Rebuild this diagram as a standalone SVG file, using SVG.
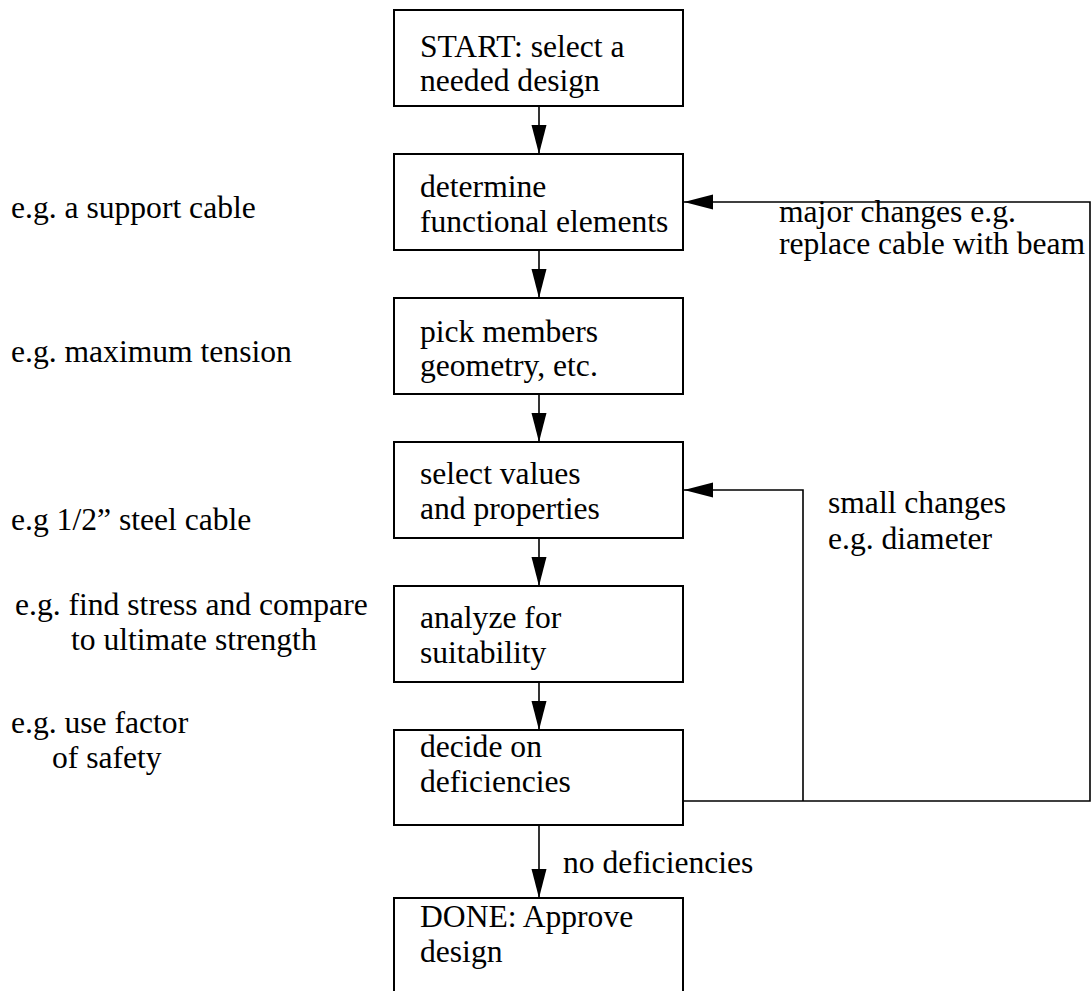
<svg xmlns="http://www.w3.org/2000/svg" width="1091" height="991" viewBox="0 0 1091 991">
  <style>
    text { font-family: "Liberation Serif", "Times New Roman", Times, serif; font-size: 31.6px; fill: #000; }
    .box { fill: #fff; stroke: #000; stroke-width: 2; }
    .wire { fill: none; stroke: #000; stroke-width: 1.6; }
  </style>
  <defs>
    <marker id="head" markerUnits="userSpaceOnUse" markerWidth="30" markerHeight="16" refX="29" refY="7.5" orient="auto">
      <path d="M0,0 L29,7.5 L0,15 Z" fill="#000"/>
    </marker>
  </defs>
  <rect width="1091" height="991" fill="#fff"/>

  <!-- process steps -->
  <g id="start">
    <rect class="box" x="394" y="10" width="289" height="96"/>
    <text x="420" y="57">START: select a</text>
    <text x="420" y="91">needed design</text>
  </g>
  <g id="functional">
    <rect class="box" x="394" y="154" width="289" height="96"/>
    <text x="420" y="197">determine</text>
    <text x="420" y="232">functional elements</text>
  </g>
  <g id="members">
    <rect class="box" x="394" y="298" width="289" height="96"/>
    <text x="420" y="342">pick members</text>
    <text x="420" y="376">geometry, etc.</text>
  </g>
  <g id="values">
    <rect class="box" x="394" y="442" width="289" height="96"/>
    <text x="420" y="484">select values</text>
    <text x="420" y="519">and properties</text>
  </g>
  <g id="analyze">
    <rect class="box" x="394" y="586" width="289" height="96"/>
    <text x="420" y="628">analyze for</text>
    <text x="420" y="663">suitability</text>
  </g>
  <g id="decide">
    <rect class="box" x="394" y="730" width="289" height="95"/>
    <text x="420" y="757">decide on</text>
    <text x="420" y="792">deficiencies</text>
  </g>
  <g id="done">
    <rect class="box" x="394" y="898" width="289" height="110"/>
    <text x="420" y="927">DONE: Approve</text>
    <text x="420" y="962">design</text>
  </g>

  <!-- connectors -->
  <g id="connectors">
    <line class="wire" x1="539" y1="106" x2="539" y2="154" marker-end="url(#head)"/>
    <line class="wire" x1="539" y1="250" x2="539" y2="298" marker-end="url(#head)"/>
    <line class="wire" x1="539" y1="394" x2="539" y2="442" marker-end="url(#head)"/>
    <line class="wire" x1="539" y1="538" x2="539" y2="586" marker-end="url(#head)"/>
    <line class="wire" x1="539" y1="682" x2="539" y2="730" marker-end="url(#head)"/>
    <line class="wire" x1="539" y1="825" x2="539" y2="898" marker-end="url(#head)"/>
    <!-- major changes loop -->
    <polyline class="wire" points="683,801 1090,801 1090,202 684,202" marker-end="url(#head)"/>
    <!-- small changes loop -->
    <polyline class="wire" points="803,801 803,490 684,490" marker-end="url(#head)"/>
  </g>

  <!-- connector labels -->
  <g id="loop-labels">
    <text x="779" y="222">major changes e.g.</text>
    <text x="779" y="254">replace cable with beam</text>
    <text x="828" y="513">small changes</text>
    <text x="828" y="549">e.g. diameter</text>
    <text x="563" y="873">no deficiencies</text>
  </g>

  <!-- examples beside each step -->
  <g id="examples">
    <text x="11" y="218">e.g. a support cable</text>
    <text x="11" y="362">e.g. maximum tension</text>
    <text x="11" y="530">e.g 1/2” steel cable</text>
    <text x="15" y="615">e.g. find stress and compare</text>
    <text x="71" y="650">to ultimate strength</text>
    <text x="11" y="733">e.g. use factor</text>
    <text x="52" y="768">of safety</text>
  </g>
</svg>
